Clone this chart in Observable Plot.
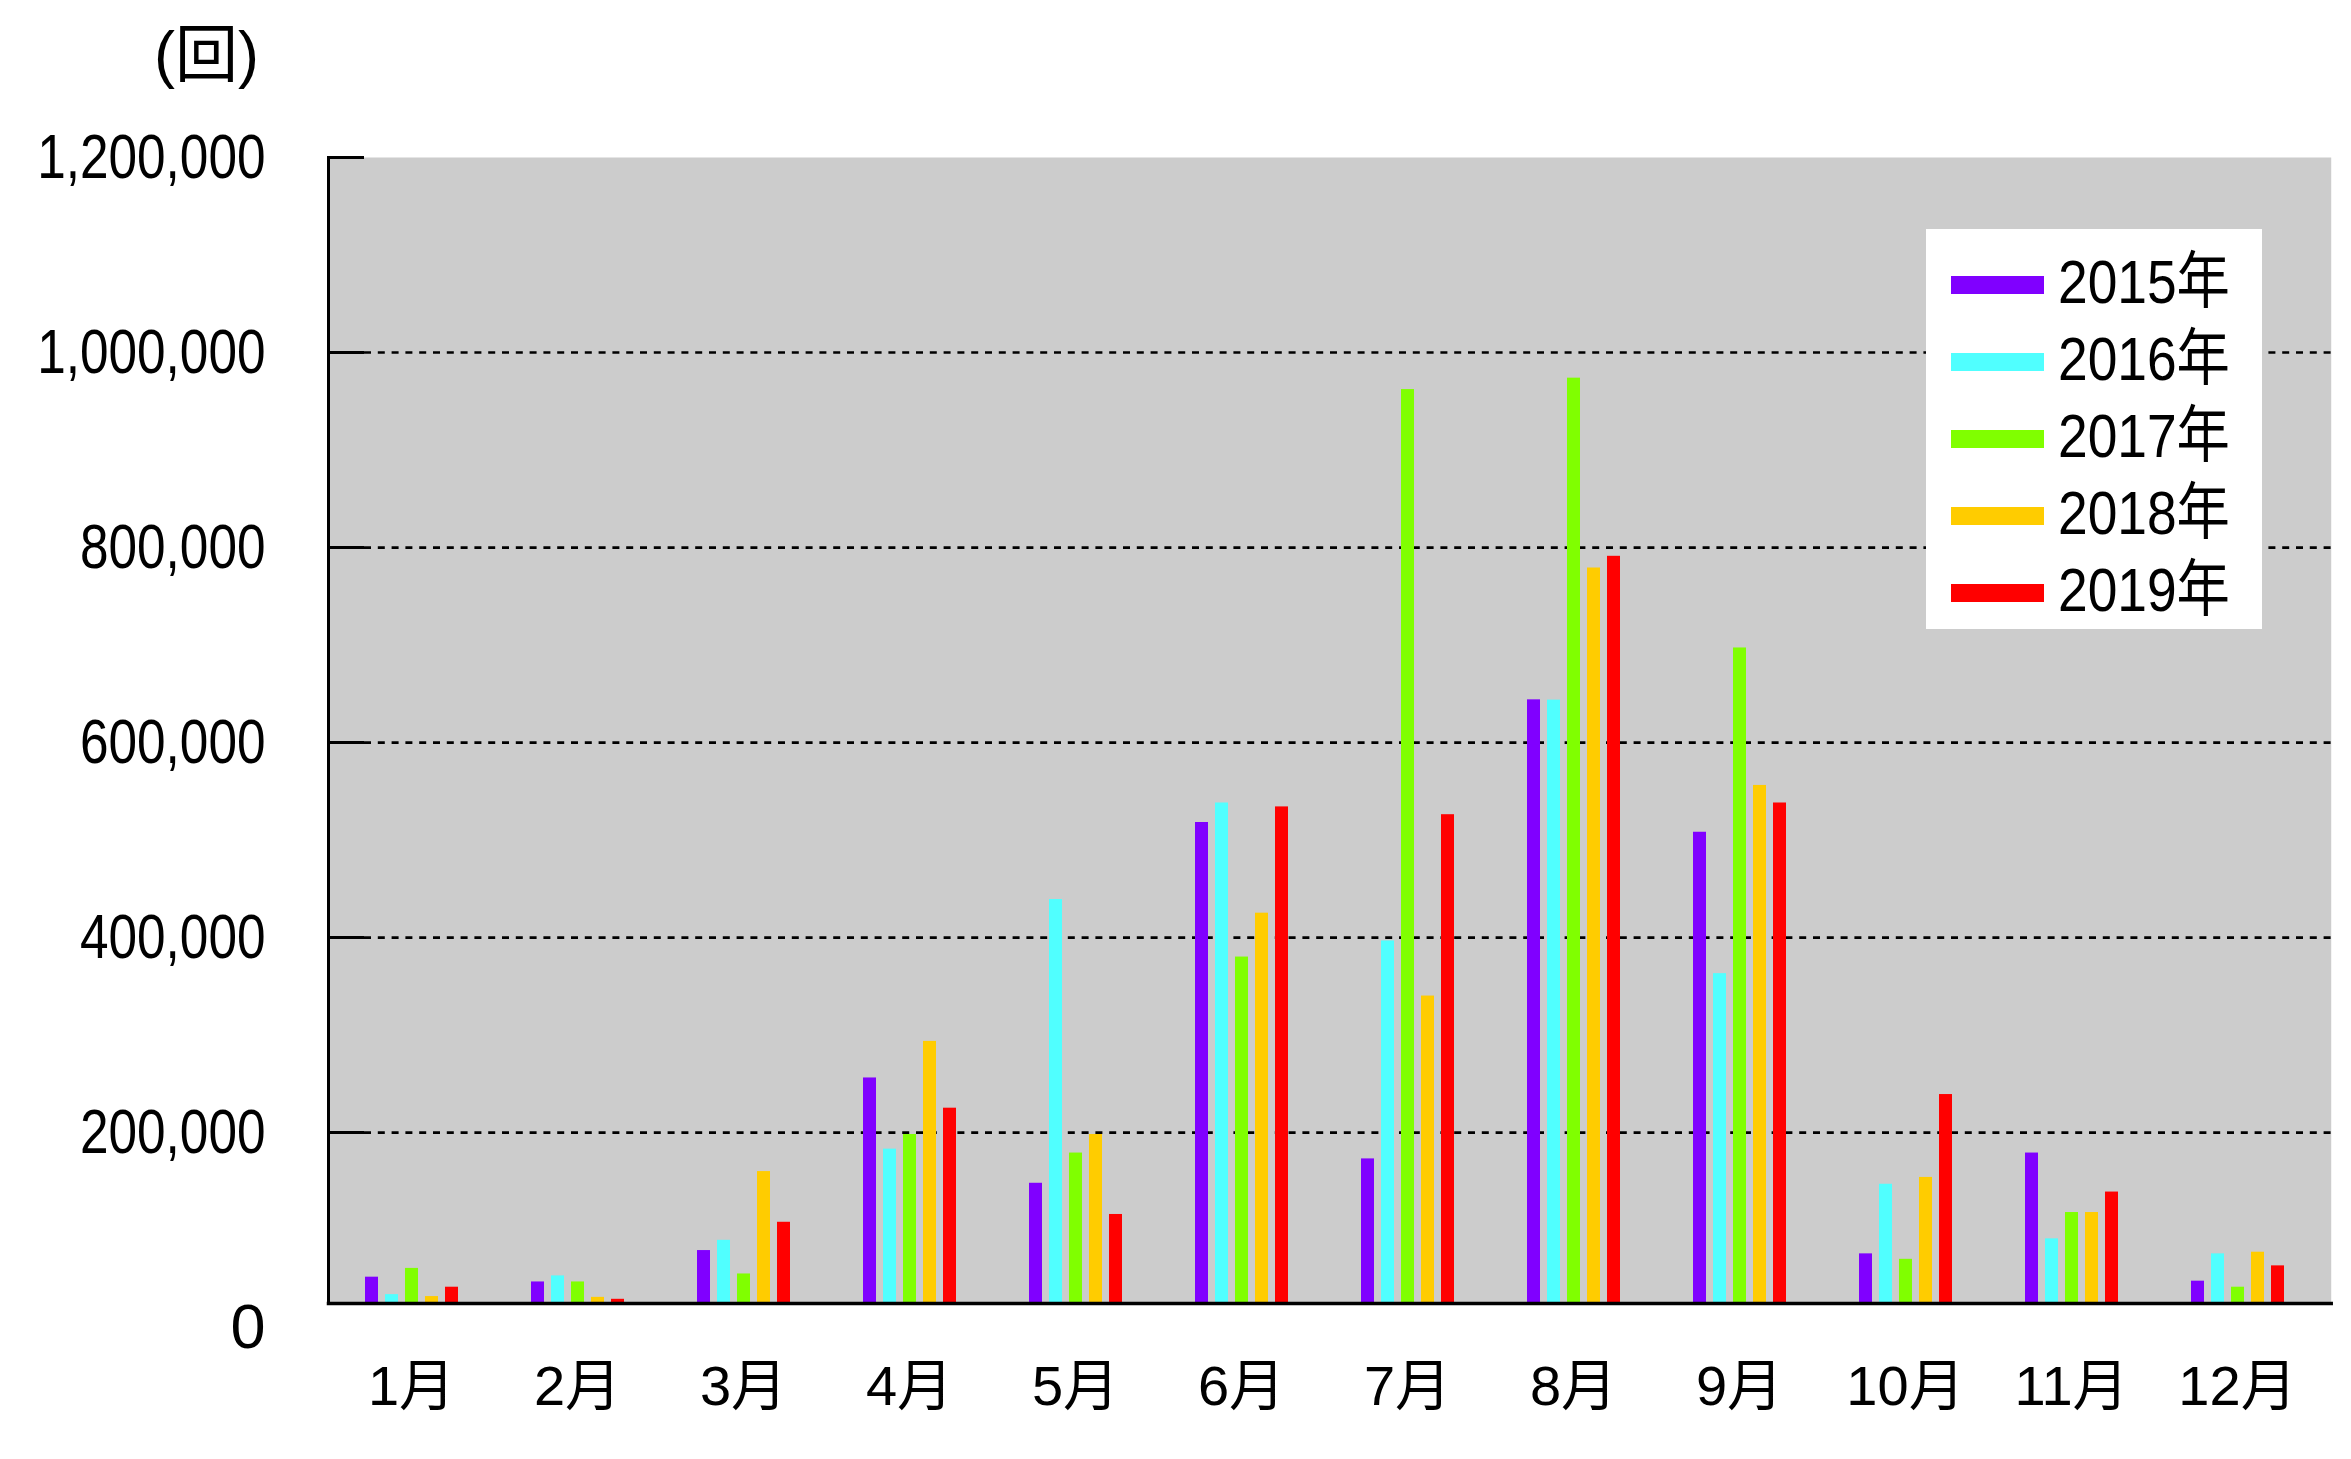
<!DOCTYPE html>
<html>
<head>
<meta charset="utf-8">
<script src="https://cdn.jsdelivr.net/npm/d3@7"></script>
<script src="https://cdn.jsdelivr.net/npm/@observablehq/plot@0.6"></script>
<style>
  html, body { margin: 0; padding: 0; background: #fff; }
  #wrap { position: relative; width: 2351px; height: 1459px; overflow: hidden;
    font-family: "Liberation Sans", Arial, "Noto Sans CJK JP", sans-serif; color: #000; }
  #unit { position: absolute; left: 60px; width: 199px; top: 18px; text-align: right; font-size: 63px; line-height: 72px; }
  #legend { position: absolute; left: 1926px; top: 229px; width: 336px; height: 400px; background: #fff; }
  .item { position: absolute; left: 0; height: 70px; display: flex; align-items: center; }
  .sw { width: 93px; height: 18px; margin-left: 25px; margin-right: 14px; flex: none; }
  .lt { font-size: 62px; line-height: 70px; white-space: nowrap; display: inline-block;
    transform: translateY(-3px) scaleX(0.86); transform-origin: left center; }
</style>
</head>
<body>
<div id="wrap">
  <div id="chart"></div>
  <div id="unit">(回)</div>
  <div id="legend"></div>
</div>
<script>
const months = ["1月","2月","3月","4月","5月","6月","7月","8月","9月","10月","11月","12月"];
const years = ["2015年","2016年","2017年","2018年","2019年"];
const colors = ["#8000ff","#50ffff","#80ff00","#ffcc00","#ff0000"];
const v2015 = [51700, 46800, 79000, 256000, 148000, 518000, 173000, 643800, 508000, 75600, 179000, 47600];
const v2016 = [33800, 53000, 89500, 183000, 439000, 538000, 396500, 643500, 363000, 147000, 91000, 75600];
const v2017 = [60700, 46800, 55000, 198000, 179000, 380000, 962000, 973700, 697000, 70000, 118000, 41400];
const v2018 = [31800, 31000, 160000, 293500, 198000, 425000, 340000, 779000, 556000, 154000, 118000, 77300];
const v2019 = [41400, 29000, 108000, 225000, 116000, 534000, 526000, 791000, 538000, 239000, 139000, 63300];
const yTicks = [200000, 400000, 600000, 800000, 1000000, 1200000];
const gridTicks = [200000, 400000, 600000, 800000, 1000000];
const zeroTick = [0];

const series = [v2015, v2016, v2017, v2018, v2019];
const data = [];
months.forEach((m, i) => years.forEach((y, j) => data.push({month: m, year: y, value: series[j][i]})));
const fmt = d3.format(",");
const FONT = '"Liberation Sans", Arial, "Noto Sans CJK JP", sans-serif';

// layout
const W = 2351, H = 1459, ML = 326, MR = 22, MT = 157, MB = 156;
const fxRange = [326, 2321.4];
const step = (fxRange[1] - fxRange[0]) / months.length;
const extend = -((W - MR) - (fxRange[0] + step)); // stretch first-facet marks across the whole plot

const chart = Plot.plot({
  width: W,
  height: H,
  marginTop: MT,
  marginBottom: MB,
  marginLeft: ML,
  marginRight: MR,
  style: {fontFamily: FONT, fontSize: "60px", color: "#000", background: "transparent"},
  fx: {domain: months, range: fxRange, padding: 0},
  x: {domain: years, paddingInner: 0.35, paddingOuter: 1.69, axis: null},
  y: {domain: [24700, 1200000]},
  color: {domain: years, range: colors},
  marks: [
    Plot.frame({fill: "#cccccc", stroke: null, facetAnchor: "left", insetRight: extend}),
    Plot.ruleY(gridTicks, {y: d => d, stroke: "#000", strokeWidth: 2.7, strokeDasharray: "7,6.8", insetLeft: 36, insetRight: extend, facetAnchor: "left"}),
    Plot.barY(data, {fx: "month", x: "year", y: "value", fill: "year", clip: true}),
    Plot.frame({anchor: "left", stroke: "#000", strokeWidth: 3, facetAnchor: "left"}),
    Plot.frame({anchor: "bottom", stroke: "#000", strokeWidth: 3.5, facetAnchor: "left", insetRight: extend}),
    Plot.axisY(yTicks, {tickSize: -36, tickPadding: 99, strokeWidth: 3, fontSize: 63, tickFormat: fmt, label: null}),
    Plot.text(zeroTick, {y: d => d, text: d => fmt(d), frameAnchor: "left", dx: -63, textAnchor: "end", fontSize: 63, facetAnchor: "left", ariaLabel: "zero label"}),
    Plot.axisFx({anchor: "bottom", tickSize: 0, tickPadding: 62, fontSize: 56, label: null})
  ]
});
// condense the numeric labels horizontally, like the reference's narrow face
d3.select(chart).selectAll('g[aria-label="y-axis tick label"] text, g[aria-label="zero label"] text').each(function() {
  const t = this.getAttribute("transform") || "";
  this.setAttribute("transform", t + " scale(0.815,1)");
});
document.getElementById("chart").appendChild(chart);

const legend = document.getElementById("legend");
years.forEach((y, j) => {
  const item = document.createElement("div");
  item.className = "item";
  item.style.top = (21 + j * 77) + "px";
  const sw = document.createElement("div");
  sw.className = "sw";
  sw.style.background = colors[j];
  const t = document.createElement("span");
  t.className = "lt";
  t.textContent = y;
  item.appendChild(sw); item.appendChild(t);
  legend.appendChild(item);
});
</script>
</body>
</html>
